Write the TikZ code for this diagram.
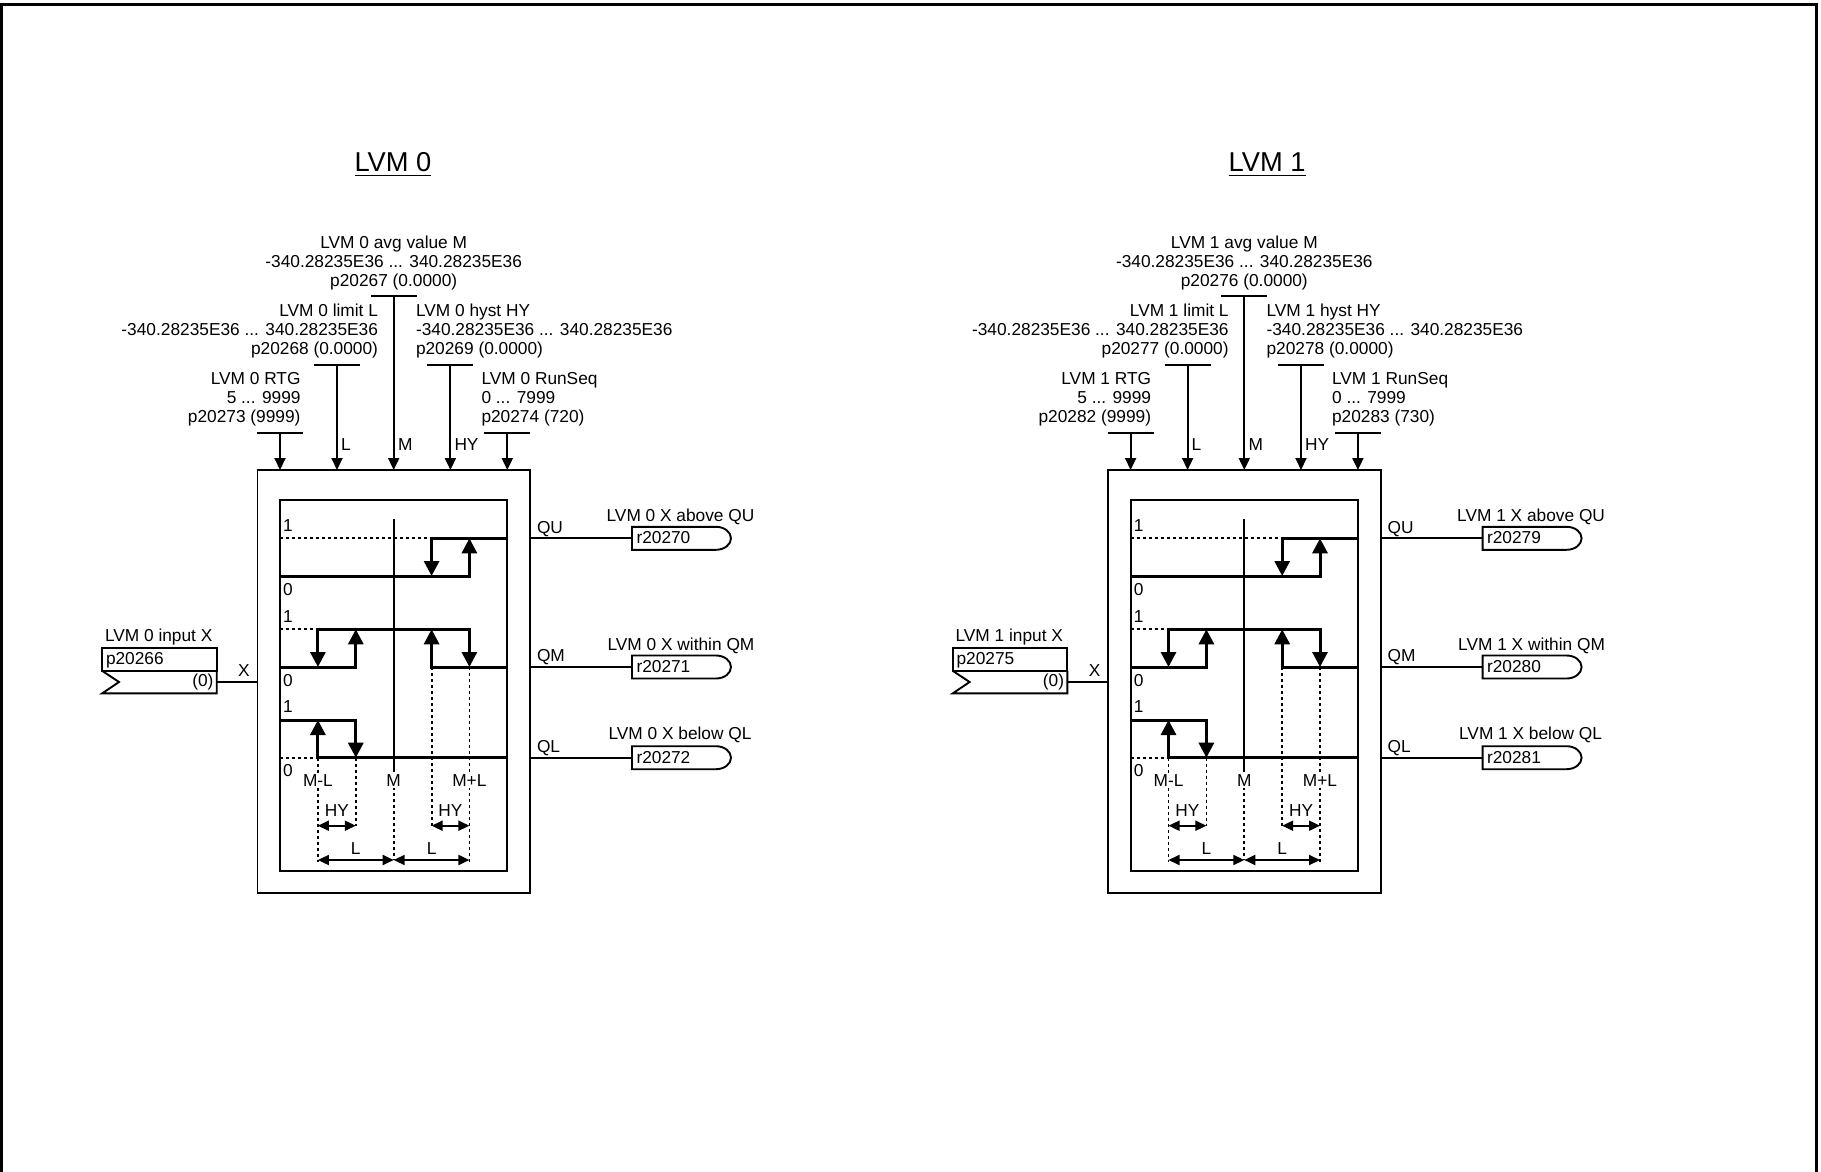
\documentclass[tikz,border=0pt]{standalone}
\usepackage{fontspec}
\setmainfont{Liberation Sans}
\usetikzlibrary{arrows.meta}
\tikzset{
  x=1pt,y=-1pt,
  txt/.style={inner sep=0pt,outer sep=0pt,font=\fontsize{17.3}{18.9}\selectfont,align=#1},
  txt/.default=center,
  thin line/.style={draw=black,line width=1.9pt},
  thick line/.style={draw=black,line width=3pt},
  dots/.style={draw=black,line width=1.8pt,dash pattern=on 3pt off 3pt},
  feed/.style={thin line,-{Triangle[length=12pt,width=11pt]}},
  bigarr/.style={draw=black,line width=3pt,-{Triangle[length=15pt,width=15pt]}},
  dim/.style={draw=black,line width=1.9pt,{Triangle[length=11pt,width=10pt]}-{Triangle[length=11pt,width=10pt]}},
  boxbar/.style={thin line,line cap=butt},
  blockbox/.style={draw=black,line width=1.9pt,inner sep=0pt,outer sep=0pt},
  masklabel/.style={txt,fill=white,inner xsep=0pt,inner ysep=1.5pt},
}
\newcommand{\LVM}[8]{%
\begin{scope}[xshift=#2pt]
 \node[txt,anchor=base] (#1title) at (\titlex,171.5) {\fontsize{27.3}{30}\selectfont LVM #1};
 \draw[line width=1.8pt] ([yshift=-4pt]#1title.base west) -- ([yshift=-4pt]#1title.base east);
 % boxes
 \node[blockbox,minimum width=272.5pt,minimum height=423pt] (#1outer) at (393.7,681.5) {};
 \node[blockbox,minimum width=227.3pt,minimum height=371pt] (#1inner) at (393.7,685.5) {};
 % parameter bars
 \coordinate (#1a1) at (280,432.7); \coordinate (#1a2) at (337,364.7); \coordinate (#1a3) at (393.7,296.3);
 \coordinate (#1a4) at (450.4,364.7); \coordinate (#1a5) at (507.3,432.7);
 \foreach \n in {1,...,5}{ \draw[boxbar] ([xshift=-23pt]#1a\n) -- ([xshift=23pt]#1a\n); }
 \foreach \n in {1,...,5}{ \coordinate (#1e\n) at (#1a\n |- #1outer.north); \draw[feed] (#1a\n) -- (#1e\n); }
 \node[txt] (#1tM) at (393.7,263.3) {LVM #1 avg value M\\-340.28235E36 ... 340.28235E36\\#3 (0.0000)};
 \node[txt=right,anchor=east] (#1tL) at (378,331) {LVM #1 limit L\\-340.28235E36 ... 340.28235E36\\#4 (0.0000)};
 \node[txt=left,anchor=west] (#1tH) at (416,331) {LVM #1 hyst HY\\-340.28235E36 ... 340.28235E36\\#5 (0.0000)};
 \node[txt=right,anchor=east] (#1tR) at (300.5,399) {LVM #1 RTG\\5 ... 9999\\#6 (9999)};
 \node[txt=left,anchor=west] (#1tS) at (481.5,399) {LVM #1 RunSeq\\0 ... 7999\\#7 (#8)};
 \node[txt,anchor=west] (#1lL) at (341,444.5) {L};
 \node[txt,anchor=west] (#1lM) at (398,444.5) {M};
 \node[txt,anchor=west] (#1lH) at (454.5,444.5) {HY};
 % centre line
 \draw[thin line] (393.7,519.3) -- (393.7,769);
 \draw[dots] (393.7,769) -- (393.7,860);
 % QU
 \draw[dots] (280,538.3) -- (431.6,538.3);
 \draw[thick line] (507.3,538.3) -- (431.6,538.3);
 \draw[bigarr] (431.6,536.8) -- (431.6,576);
 \draw[thick line] (280,576) -- (469.4,576);
 \draw[bigarr] (469.4,577.5) -- (469.4,538.3);
 % QM
 \draw[dots] (280,629.3) -- (317.9,629.3);
 \draw[thick line] (317.9,629.3) -- (469.4,629.3);
 \draw[bigarr] (317.9,627.8) -- (317.9,667);
 \draw[thick line] (280,667) -- (355.8,667);
 \draw[bigarr] (355.8,668.5) -- (355.8,629.3);
 \draw[bigarr] (431.6,668.5) -- (431.6,629.3);
 \draw[thick line] (431.6,667) -- (507.3,667);
 \draw[bigarr] (469.4,627.8) -- (469.4,667);
 % dotted drops
 \draw[dots] (317.9,757.7) -- (317.9,862);
 \draw[dots] (355.8,757.7) -- (355.8,826);
 \draw[dots] (431.6,667) -- (431.6,829);
 \draw[dots] (469.4,667) -- (469.4,862);
 % QL
 \draw[thick line] (280,720) -- (355.8,720);
 \draw[bigarr] (317.9,759.2) -- (317.9,720);
 \draw[bigarr] (355.8,718.5) -- (355.8,757.7);
 \draw[dots] (280,757.7) -- (317.9,757.7);
 \draw[thick line] (317.9,757.7) -- (507.3,757.7);
 % dimension arrows
 \coordinate (#1d1) at (317.9,825.7); \coordinate (#1d2) at (355.8,825.7); \coordinate (#1d3) at (431.6,825.7); \coordinate (#1d4) at (469.4,825.7);
 \coordinate (#1d5) at (317.9,860); \coordinate (#1d6) at (393.7,860); \coordinate (#1d7) at (469.4,860);
 \draw[dim] (#1d1) -- (#1d2); \draw[dim] (#1d3) -- (#1d4); \draw[dim] (#1d5) -- (#1d6); \draw[dim] (#1d6) -- (#1d7);
 % small labels
 \node[txt] (#1h1) at (336.8,810.5) {HY};
 \node[txt] (#1h2) at (450.5,810.5) {HY};
 \node[txt] (#1l1) at (355.8,849) {L};
 \node[txt] (#1l2) at (431.6,849) {L};
 \node[masklabel] (#1m1) at (317.9,781) {M-L};
 \node[masklabel] (#1m2) at (393.7,781) {M};
 \node[masklabel] (#1m3) at (469.4,781) {M+L};
 \foreach \n/\xx/\yy/\s in {a/288/525.5/1,b/288/590/0,c/288/616.5/1,d/288/681/0,e/288/707/1,f/288/771/0}{
   \node[txt] (#1n\n) at (\xx,\yy) {\s};
 }
 % input
 \node[blockbox,minimum width=114.4pt,minimum height=22.7pt] (#1ibox) at (159.5,659.6) {};
 \node[txt,anchor=west] (#1iname) at (105,637) {LVM #1 input X};
 \node[txt,anchor=west] (#1ipar) at (106,660) {\inpar};
 \draw[thin line,line join=miter] (#1ibox.south west) -- (119,682) -- (102.3,693.3) -- (#1ibox.south east |- 0,693.3) -- (#1ibox.south east);
 \coordinate (#1iend) at (#1ibox.east |- 0,681.7);
 \node[txt,anchor=east] (#1izero) at (213.5,682) {(0)};
 \draw[thin line] (#1iend) -- (#1iend -| #1outer.west);
 \node[txt] (#1ix) at (244,671) {X};
 % outputs
 \foreach \n/\yy/\lab/\rv/\out/\cx/\ty in {u/538.3/QU/\ra/above QU/680.5/516.5/,m/667/QM/\rb/within QM/681/645.5,l/757.7/QL/\rc/below QL/680/735}{
   \coordinate (#1o\n) at (#1outer.east |- 0,\yy);
   \coordinate (#1p\n) at (632,\yy);
   \draw[thin line] (#1o\n) -- (#1p\n);
   \draw[thin line,fill=white] (632,\yy-11.5) -- (716,\yy-11.5) arc[start angle=90,end angle=-90,x radius=15pt,y radius=11.5pt] -- (632,\yy+11.5) -- cycle;
   \node[txt,anchor=west] (#1q\n) at (537,\yy-9.5) {\lab};
   \node[txt,anchor=west] (#1r\n) at (636.5,\yy-0.5) {\rv};
   \node[txt] (#1s\n) at (\cx,\ty) {LVM #1 X \out};
 }
\end{scope}}
\begin{document}
\begin{tikzpicture}
\useasboundingbox (0,0) rectangle (1821,1172);
\draw[line width=3pt] (1.5,1172) -- (1.5,4.7) -- (1816.5,4.7) -- (1816.5,1172);
\def\inpar{p20266}\def\ra{r20270}\def\rb{r20271}\def\rc{r20272}\def\titlex{393}
\LVM{0}{0}{p20267}{p20268}{p20269}{p20273}{p20274}{720}
\def\inpar{p20275}\def\ra{r20279}\def\rb{r20280}\def\rc{r20281}\def\titlex{416.5}
\LVM{1}{850.6}{p20276}{p20277}{p20278}{p20282}{p20283}{730}
\end{tikzpicture}
\end{document}
